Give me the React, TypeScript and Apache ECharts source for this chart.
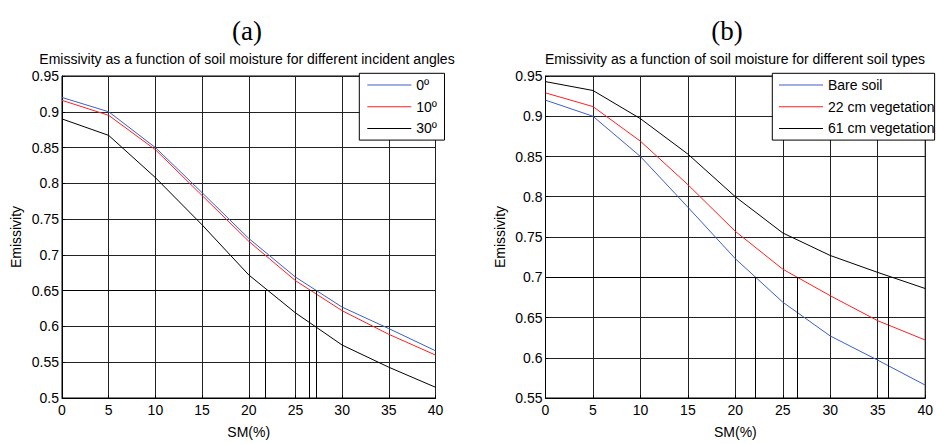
import React, { useEffect, useRef } from "react";
import * as echarts from "echarts";

// ---- data ----
const smValues = [0, 5, 10, 15, 20, 25, 30, 35, 40];
const angle0 = [0.92, 0.9, 0.85, 0.787, 0.723, 0.669, 0.627, 0.597, 0.566];
const angle10 = [0.916, 0.895, 0.847, 0.783, 0.719, 0.664, 0.622, 0.589, 0.56];
const angle30 = [0.89, 0.867, 0.808, 0.742, 0.672, 0.619, 0.574, 0.543, 0.515];
const bareSoil = [0.92, 0.9, 0.85, 0.787, 0.723, 0.669, 0.627, 0.597, 0.566];
const veg22 = [0.929, 0.912, 0.869, 0.815, 0.757, 0.71, 0.677, 0.646, 0.622];
const veg61 = [0.943, 0.932, 0.897, 0.853, 0.8, 0.755, 0.727, 0.706, 0.686];
const namesA = ["0º", "10º", "30º"];
const namesB = ["Bare soil", "22 cm vegetation", "61 cm vegetation"];
const thresholdA = 0.65;
const crossingsA = [21.8, 26.5, 27.2];
const thresholdB = 0.7;
const crossingsB = [22.1, 26.5, 36.1];
const titleA = "Emissivity as a function of soil moisture for different incident angles";
const titleB = "Emissivity as a function of soil moisture for different soil types";

const FONT = "Liberation Sans, Arial, sans-serif";
const SERIF = "Liberation Serif, Times New Roman, serif";
const colors = ["#3b5fc8", "#ff1f1f", "#000000"];

const zip = (ys: number[]) => smValues.map((x, i) => [x, ys[i]]);

function dropLines(crossings: number[], thr: number, yMin: number) {
  const maxX = Math.max(...crossings);
  const d: any[] = crossings.map((x) => [{ coord: [x, yMin] }, { coord: [x, thr] }]);
  d.push([{ coord: [0, thr] }, { coord: [maxX, thr] }]);
  return d;
}

export default function App() {
  const ref = useRef<HTMLDivElement>(null);
  useEffect(() => {
    if (!ref.current) return;
    const chart = echarts.init(ref.current, undefined, { renderer: "svg" });
    const axisCommon = {
      axisLine: { show: true, onZero: false, lineStyle: { color: "#000", width: 1 } },
      axisTick: { show: true, inside: true, length: 3, lineStyle: { color: "#000" } },
      splitLine: { show: true, lineStyle: { color: "#222", width: 1 } },
      axisLabel: { color: "#000", fontFamily: FONT, fontSize: 14 },
      nameTextStyle: { color: "#000", fontFamily: FONT, fontSize: 14 },
    };
    const xAxisDef = (gi: number) => ({
      ...axisCommon,
      type: "value",
      gridIndex: gi,
      min: 0,
      max: 40,
      interval: 5,
      name: "SM(%)",
      nameLocation: "middle",
      nameGap: 27,
      axisLabel: { ...axisCommon.axisLabel, margin: 5 },
    });
    const yAxisDef = (gi: number, min: number) => ({
      ...axisCommon,
      type: "value",
      gridIndex: gi,
      min,
      max: 0.95,
      interval: 0.05,
      name: "Emissivity",
      nameLocation: "middle",
      nameGap: 39,
      axisLabel: { ...axisCommon.axisLabel, margin: 3 },
    });
    const lineSeries = (name: string, ys: number[], ci: number, gi: number) => ({
      type: "line",
      name,
      xAxisIndex: gi,
      yAxisIndex: gi,
      data: zip(ys),
      symbol: "none",
      showSymbol: false,
      lineStyle: { color: colors[ci], width: 1 },
      itemStyle: { color: colors[ci] },
      z: 3,
    });
    const markSeries = (gi: number, crossings: number[], thr: number, yMin: number) => ({
      type: "line",
      name: "guide" + gi,
      xAxisIndex: gi,
      yAxisIndex: gi,
      data: [],
      silent: true,
      markLine: {
        silent: true,
        symbol: "none",
        label: { show: false },
        lineStyle: { color: "#000", width: 1, type: "solid" },
        data: dropLines(crossings, thr, yMin),
      },
    });
    const legendCommon = {
      orient: "vertical",
      top: 73.3,
      icon: "rect",
      itemWidth: 44,
      itemHeight: 1,
      itemGap: 7.7,
      borderColor: "#000",
      borderWidth: 1,
      borderRadius: 0,
      backgroundColor: "#fff",
      textStyle: { color: "#000", fontFamily: FONT, fontSize: 14, lineHeight: 14 },
      z: 10,
    };
    const option: any = {
      animation: false,
      backgroundColor: "#fff",
      title: [
        { text: "(a)", left: 247, top: 17, textAlign: "center", padding: 0,
          textStyle: { fontFamily: SERIF, fontSize: 27, fontWeight: "normal", color: "#000" } },
        { text: "(b)", left: 727, top: 17, textAlign: "center", padding: 0,
          textStyle: { fontFamily: SERIF, fontSize: 27, fontWeight: "normal", color: "#000" } },
        { text: titleA, left: 247, top: 52, textAlign: "center", padding: 0,
          textStyle: { fontFamily: FONT, fontSize: 14, fontWeight: "normal", color: "#000" } },
        { text: titleB, left: 735, top: 52, textAlign: "center", padding: 0,
          textStyle: { fontFamily: FONT, fontSize: 14, fontWeight: "normal", color: "#000" } },
      ],
      legend: [
        { ...legendCommon, left: 359.3, padding: [4.7, 7.5, 4.7, 8], data: namesA },
        { ...legendCommon, left: 772.3, padding: [4.7, 0, 4.7, 6.7], data: namesB },
      ],
      grid: [
        { left: 62, top: 76, width: 373.5, height: 327, show: true, borderColor: "#000", borderWidth: 1, backgroundColor: "transparent" },
        { left: 545.5, top: 76, width: 382, height: 327, show: true, borderColor: "#000", borderWidth: 1, backgroundColor: "transparent" },
      ],
      xAxis: [xAxisDef(0), xAxisDef(1)],
      yAxis: [yAxisDef(0, 0.5), yAxisDef(1, 0.55)],
      series: [
        markSeries(0, crossingsA, thresholdA, 0.5),
        markSeries(1, crossingsB, thresholdB, 0.55),
        lineSeries(namesA[0], angle0, 0, 0),
        lineSeries(namesA[1], angle10, 1, 0),
        lineSeries(namesA[2], angle30, 2, 0),
        lineSeries(namesB[0], bareSoil, 0, 1),
        lineSeries(namesB[1], veg22, 1, 1),
        lineSeries(namesB[2], veg61, 2, 1),
      ],
    };
    chart.setOption(option);
    return () => chart.dispose();
  }, []);
  return (
    <div
      ref={ref}
      style={{ position: "absolute", left: 0, top: 0, width: 936, height: 444, background: "#fff" }}
    />
  );
}
